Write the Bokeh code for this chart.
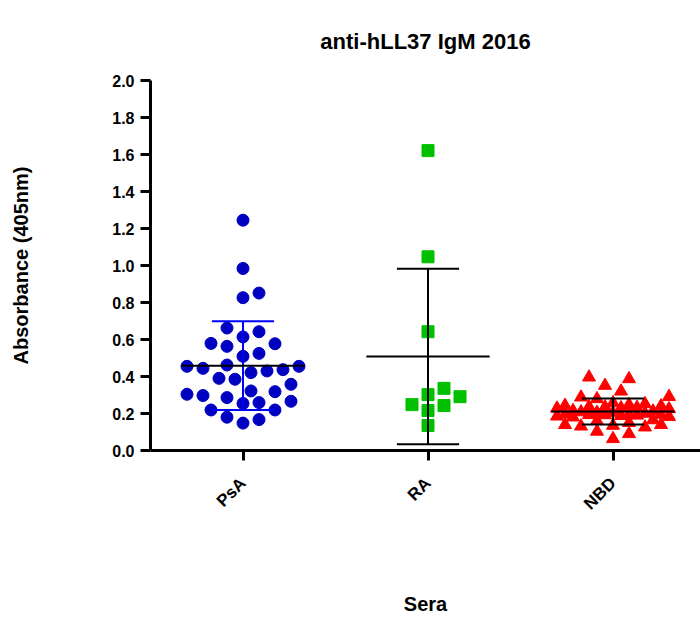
import math
import numpy as np
from bokeh.plotting import figure
from bokeh.models import FixedTicker, NumeralTickFormatter, Range1d, ColumnDataSource
from bokeh.embed import file_html
from bokeh.resources import INLINE

# ---------------- data ----------------
categories = ["PsA", "RA", "NBD"]
psa_values = [1.245, 0.984, 0.826, 0.851, 0.642, 0.662, 0.614, 0.579, 0.563, 0.577,
              0.509, 0.525, 0.444, 0.455, 0.455, 0.462, 0.430, 0.421, 0.437, 0.390,
              0.385, 0.358, 0.322, 0.304, 0.286, 0.259, 0.254, 0.266, 0.297, 0.318,
              0.219, 0.219, 0.180, 0.148, 0.167]
ra_values = [1.621, 1.047, 0.642, 0.336, 0.302, 0.291, 0.248, 0.243, 0.216, 0.135]
nbd_values = [0.387, 0.396, 0.351, 0.320, 0.291, 0.288, 0.279, 0.257, 0.252, 0.247,
              0.243, 0.235, 0.230, 0.228, 0.225, 0.232, 0.236, 0.240, 0.215, 0.212,
              0.208, 0.205, 0.203, 0.200, 0.198, 0.196, 0.195, 0.193, 0.192, 0.190,
              0.188, 0.185, 0.183, 0.180, 0.165, 0.160, 0.150, 0.139, 0.131, 0.103,
              0.063, 0.090, 0.126, 0.135, 0.139]
y_ticks = [0.0, 0.2, 0.4, 0.6, 0.8, 1.0, 1.2, 1.4, 1.6, 1.8, 2.0]
title_text = "anti-hLL37 IgM 2016"
y_label = "Absorbance (405nm)"
x_label = "Sera"

# ---------------- layout ----------------
W, H = 700, 618
BL, BR, BT, BB = 150, 0, 79, 168
FW = W - BL - BR
FH = H - BT - BB
X0 = -0.5
X1 = X0 + FW / 185.0
PX_X = FW / (X1 - X0)
PX_Y = FH / 2.0


def swarm(vals, D, step, maxw):
    vals = np.asarray(vals, dtype=float)
    order = np.argsort(vals)
    placed = []
    offs = np.zeros(len(vals))
    cands = [0.0]
    k = 1
    while k * step <= maxw:
        cands += [k * step, -k * step]
        k += 1
    for i in order:
        y = vals[i] * PX_Y
        chosen = None
        bestd, bestc = -1.0, 0.0
        for c in cands:
            d = min([math.hypot(c - px, y - py) for px, py in placed], default=1e9)
            if d >= D:
                chosen = c
                break
            if d > bestd:
                bestd, bestc = d, c
        if chosen is None:
            chosen = bestc
        placed.append((chosen, y))
        offs[i] = chosen / PX_X
    return offs


p = figure(width=W, height=H, output_backend="svg", toolbar_location=None,
           x_range=Range1d(X0, X1), y_range=Range1d(0, 2.0),
           min_border_left=BL, min_border_right=BR, min_border_top=BT,
           min_border_bottom=BB)
p.outline_line_color = None
p.xgrid.visible = False
p.ygrid.visible = False
p.background_fill_color = "white"
p.border_fill_color = "white"

FONT = "Liberation Sans"

groups = [
    (psa_values, "circle", "#0000C0", "#0000FF", 12, 16, 8, 56),
    (ra_values, "square", "#00C000", "#000000", 12, 15, 8, 56),
    (nbd_values, "triangle", "#FF0000", "#000000", 13, 13, 8, 62),
]

MEAN_HALF = 0.333
CAP_HALF = 0.168

for i, (vals, marker, col, ecol, size, D, step, maxw) in enumerate(groups):
    offs = swarm(vals, D, step, maxw)
    src = ColumnDataSource(dict(x=i + offs, y=vals))
    p.scatter("x", "y", source=src, marker=marker, size=size,
              fill_color=col, line_color=col)

for i, (vals, marker, col, ecol, size, D, step, maxw) in enumerate(groups):
    m = float(np.mean(vals))
    sd = float(np.std(vals, ddof=1))
    p.segment(x0=[i], y0=[m - sd], x1=[i], y1=[m + sd], line_color=ecol, line_width=2)
    p.segment(x0=[i - CAP_HALF, i - CAP_HALF], y0=[m - sd, m + sd],
              x1=[i + CAP_HALF, i + CAP_HALF], y1=[m - sd, m + sd],
              line_color=ecol, line_width=2)
    p.segment(x0=[i - MEAN_HALF], y0=[m], x1=[i + MEAN_HALF], y1=[m],
              line_color="black", line_width=2)

# axes
for ax in (p.xaxis[0], p.yaxis[0]):
    ax.axis_line_width = 3
    ax.axis_line_color = "black"
    ax.major_tick_line_width = 3
    ax.major_tick_line_color = "black"
    ax.major_tick_out = 10
    ax.major_tick_in = 0
    ax.minor_tick_line_color = None
    ax.major_label_text_font = FONT
    ax.major_label_text_font_style = "bold"
    ax.major_label_text_color = "black"
    ax.axis_label_text_font = FONT
    ax.axis_label_text_font_style = "bold"
    ax.axis_label_text_color = "black"
    ax.axis_label_text_font_size = "20px"

p.yaxis.ticker = FixedTicker(ticks=y_ticks)
p.yaxis.formatter = NumeralTickFormatter(format="0.0")
p.yaxis.major_label_text_font_size = "16px"
p.yaxis.major_label_standoff = 6
p.yaxis.axis_label = y_label
p.yaxis.axis_label_standoff = 77

p.xaxis.ticker = FixedTicker(ticks=list(range(len(categories))))
p.xaxis.major_label_overrides = {i: c for i, c in enumerate(categories)}
p.xaxis.major_label_orientation = math.pi / 4
p.xaxis.major_label_text_font_size = "17px"
p.xaxis.major_label_standoff = 20
p.xaxis.axis_label = x_label
p.xaxis.axis_label_standoff = 70

p.title.text = title_text
p.title.text_font = FONT
p.title.text_font_style = "bold"
p.title.text_font_size = "22px"
p.title.text_color = "black"
p.title.align = "center"
p.title.standoff = 53

open("out.html", "w").write(file_html(p, INLINE))
